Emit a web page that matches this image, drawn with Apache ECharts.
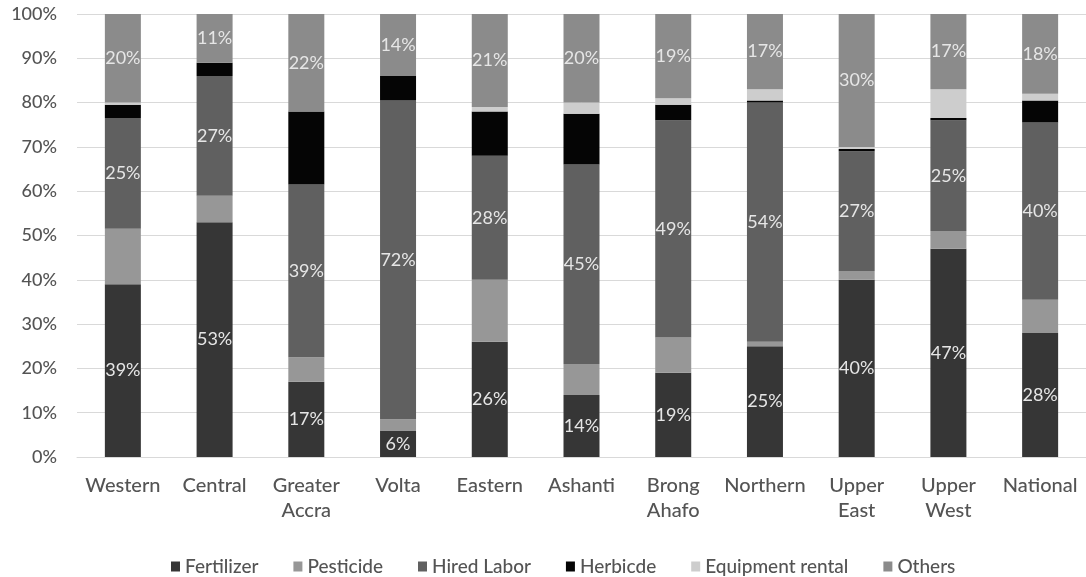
<!DOCTYPE html>
<html>
<head>
<meta charset="utf-8">
<script src="https://cdn.jsdelivr.net/npm/echarts@6/dist/echarts.min.js"></script>
<style>
  html, body { margin: 0; padding: 0; background: #ffffff; }
  #chart { width: 1086px; height: 577px; }
</style>
</head>
<body>
<div id="chart"></div>
<script>
// Share of production costs by region (percent of total)
const regions = ['Western', 'Central', 'Greater\nAccra', 'Volta', 'Eastern', 'Ashanti',
                 'Brong\nAhafo', 'Northern', 'Upper\nEast', 'Upper\nWest', 'National'];

const fertilizer = [39, 53, 17, 6, 26, 14, 19, 25, 40, 47, 28];
const pesticide  = [12.5, 6, 5.5, 2.5, 14, 7, 8, 1, 2, 4, 7.5];
const hiredLabor = [25, 27, 39, 72, 28, 45, 49, 54, 27, 25, 40];
const herbicide  = [3, 3, 16.5, 5.5, 10, 11.5, 3.5, 0.5, 0.5, 0.5, 5];
const equipment  = [0.5, 0, 0, 0, 1, 2.5, 1.5, 2.5, 0.5, 6.5, 1.5];
const others     = [20, 11, 22, 14, 21, 20, 19, 17, 30, 17, 18];

const yTicks = [0, 10, 20, 30, 40, 50, 60, 70, 80, 90, 100];

const FONT = 'Lato';
const TEXT = '#545454';

function seg(name, data, color, labelled) {
  return {
    name: name,
    type: 'bar',
    stack: 'total',
    data: data,
    barWidth: 36,
    itemStyle: { color: color },
    label: {
      show: labelled,
      position: 'inside',
      color: '#e6e6e6',
      fontFamily: FONT,
      fontSize: 18,
      formatter: p => Math.round(p.value) + '%'
    },
    emphasis: { disabled: true }
  };
}

const chart = echarts.init(document.getElementById('chart'), null, { renderer: 'canvas' });
chart.setOption({
  animation: false,
  backgroundColor: '#ffffff',
  grid: { left: 77, top: 14, width: 1015, height: 443, containLabel: false },
  legend: {
    top: 552,
    left: 166,
    itemWidth: 9,
    itemHeight: 10,
    itemGap: 35,
    icon: 'rect',
    textStyle: { fontFamily: FONT, fontSize: 19, color: TEXT, fontWeight: 500 },
    data: ['Fertilizer', 'Pesticide', 'Hired Labor', 'Herbicde', 'Equipment rental', 'Others']
  },
  xAxis: {
    type: 'category',
    data: regions,
    axisTick: { show: false },
    axisLine: { lineStyle: { color: '#d9d9d9', width: 1 } },
    axisLabel: {
      fontFamily: FONT, fontSize: 20, color: TEXT, fontWeight: 500,
      lineHeight: 25, margin: 16, interval: 0
    }
  },
  yAxis: {
    type: 'value',
    min: 0, max: 100, interval: 10,
    axisLine: { show: false },
    axisTick: { show: false },
    splitLine: { lineStyle: { color: '#d9d9d9', width: 1 } },
    axisLabel: {
      fontFamily: FONT, fontSize: 18, color: TEXT, fontWeight: 500, margin: 20,
      formatter: v => yTicks.indexOf(v) >= 0 ? v + '%' : ''
    }
  },
  series: [
    seg('Fertilizer', fertilizer, '#363636', true),
    seg('Pesticide', pesticide, '#979797', false),
    seg('Hired Labor', hiredLabor, '#606060', true),
    seg('Herbicde', herbicide, '#050505', false),
    seg('Equipment rental', equipment, '#cdcdcd', false),
    seg('Others', others, '#8b8b8b', true)
  ]
});
</script>
</body>
</html>
